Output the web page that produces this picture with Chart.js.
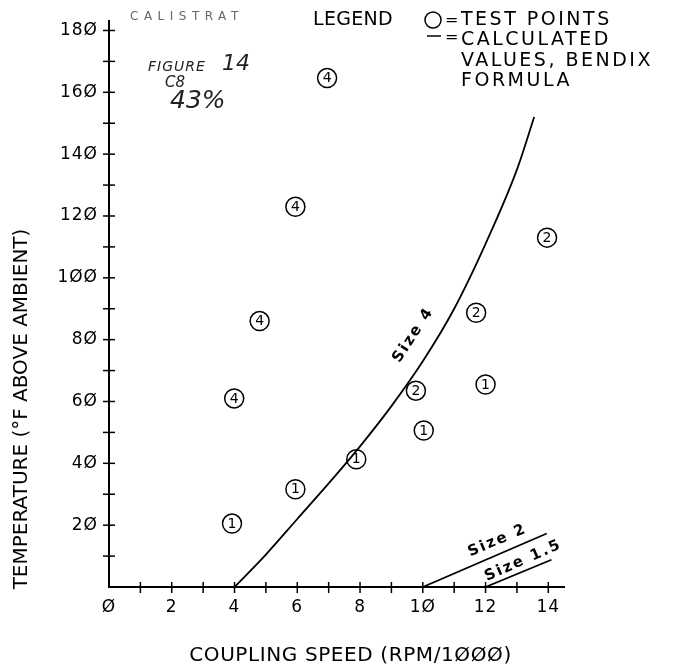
<!DOCTYPE html>
<html>
<head>
<meta charset="utf-8">
<script src="https://cdn.jsdelivr.net/npm/chart.js@4"></script>
<style>
  html, body { margin: 0; padding: 0; background: #fff; }
</style>
</head>
<body>
<canvas id="chart" width="675" height="666"></canvas>
<script>
// Calculated curves (Bendix formula)
const size4Speed = [4, 5, 6, 7, 8, 9, 10, 11, 12, 13, 13.55];
const size4Temp  = [0, 10.5, 22, 33.5, 45.5, 58.5, 73, 90, 111, 135, 152];
const size2Speed = [10, 13.95];
const size2Temp  = [0, 17.3];
const size15Speed = [12, 14.1];
const size15Temp  = [0, 8.8];

// Test points (circled number = coupling size)
const testSpeed = [6.95, 5.94, 4.8, 3.99, 3.92, 5.94, 7.88, 9.78, 10.03, 12.0, 11.7, 13.96];
const testTemp  = [164.6, 123, 86, 61, 20.5, 31.6, 41.3, 63.5, 50.6, 65.5, 88.7, 113];
const testSize  = ['4', '4', '4', '4', '1', '1', '1', '2', '1', '1', '2', '2'];

const curveNames = ['Size 4', 'Size 2', 'Size 1.5'];
const legendLines = ['TEST POINTS', 'CALCULATED', 'VALUES, BENDIX', 'FORMULA'];
const xTitle = 'COUPLING SPEED (RPM/1000)';
const yTitle = 'TEMPERATURE (°F ABOVE AMBIENT)';

const slashZero = s => String(s).replace(/0/g, 'Ø');
const toPoints = (xs, ys) => xs.map((x, i) => ({ x, y: ys[i] }));

function drawText(ctx, text, x, y, o) {
  o = o || {};
  ctx.save();
  ctx.translate(x, y);
  if (o.rot) ctx.rotate(o.rot * Math.PI / 180);
  ctx.font = o.font || '20px "DejaVu Sans"';
  ctx.letterSpacing = (o.ls || 0) + 'px';
  ctx.textAlign = o.align || 'left';
  ctx.textBaseline = 'middle';
  ctx.fillStyle = o.color || '#000';
  ctx.fillText(text, 0, 0);
  ctx.restore();
}

const paperPlugin = {
  id: 'paper',
  beforeDraw(chart) {
    chart.ctx.letterSpacing = '1px';
  },
  afterDatasetsDraw(chart) {
    const ctx = chart.ctx;
    const xs = chart.scales.x, ys = chart.scales.y;

    // tick marks crossing the axes
    ctx.save();
    ctx.strokeStyle = '#000';
    ctx.lineWidth = 1.5;
    xs.ticks.forEach(t => {
      if (t.value === 0) return;
      const px = xs.getPixelForValue(t.value);
      ctx.beginPath();
      ctx.moveTo(px, ys.bottom - 5);
      ctx.lineTo(px, ys.bottom + 6);
      ctx.stroke();
    });
    ys.ticks.forEach(t => {
      if (t.value === 0) return;
      const py = ys.getPixelForValue(t.value);
      ctx.beginPath();
      ctx.moveTo(xs.left - 6, py);
      ctx.lineTo(xs.left + 6, py);
      ctx.stroke();
    });
    ctx.restore();

    // numbers inside the test point circles
    const meta = chart.getDatasetMeta(3);
    meta.data.forEach((pt, i) => {
      drawText(ctx, testSize[i], pt.x, pt.y + 0.5, { font: '14px "DejaVu Sans"', align: 'center' });
    });

    // curve labels
    const bold = 'bold 15px "DejaVu Sans"';
    drawText(ctx, curveNames[0], xs.getPixelForValue(9.7), ys.getPixelForValue(81.5), { font: bold, ls: 2, align: 'center', rot: -57 });
    drawText(ctx, curveNames[1], xs.getPixelForValue(12.38), ys.getPixelForValue(15), { font: bold, ls: 2, align: 'center', rot: -23 });
    drawText(ctx, curveNames[2], xs.getPixelForValue(13.2), ys.getPixelForValue(8.5), { font: bold, ls: 2, align: 'center', rot: -24 });
  },
  afterDraw(chart) {
    const ctx = chart.ctx;
    const area = chart.chartArea;

    // axis titles
    drawText(ctx, slashZero(xTitle), (area.left + area.right) / 2 + 14, 656, { font: '20px "DejaVu Sans"', ls: 0.6, align: 'center' });
    drawText(ctx, yTitle, 22, 409, { font: '20px "DejaVu Sans"', align: 'center', rot: -90 });

    // legend block
    drawText(ctx, 'LEGEND', 313, 20, { font: '19px "DejaVu Sans"', ls: 0.3 });
    ctx.save();
    ctx.strokeStyle = '#000';
    ctx.lineWidth = 1.5;
    ctx.beginPath();
    ctx.arc(433, 20, 8, 0, Math.PI * 2);
    ctx.stroke();
    ctx.beginPath();
    ctx.moveTo(427, 36);
    ctx.lineTo(441, 36);
    ctx.stroke();
    ctx.restore();
    drawText(ctx, '=', 445, 21, { font: '16px "DejaVu Sans"' });
    drawText(ctx, '=', 445, 38, { font: '16px "DejaVu Sans"' });
    legendLines.forEach((s, i) => {
      drawText(ctx, s, 461, 20 + i * 20.5, { font: '19px "DejaVu Sans"', ls: 2.5 });
    });

    // handwritten notes
    drawText(ctx, 'CALISTRAT', 130, 17, { font: '12px "DejaVu Sans"', ls: 5.5, color: '#666' });
    drawText(ctx, 'FIGURE', 148, 67, { font: 'italic 14px "DejaVu Sans"', ls: 1, color: '#222' });
    drawText(ctx, '14', 222, 64, { font: 'italic 22px "DejaVu Sans"', color: '#222' });
    drawText(ctx, 'C8', 165, 83, { font: 'italic 15px "DejaVu Sans"', color: '#222' });
    drawText(ctx, '43%', 170, 101, { font: 'italic 25px "DejaVu Sans"', color: '#222' });
  }
};

const curveStyle = {
  showLine: true,
  borderColor: '#000',
  borderWidth: 1.8,
  pointRadius: 0,
  fill: false
};

new Chart(document.getElementById('chart'), {
  type: 'scatter',
  data: {
    datasets: [
      Object.assign({ label: curveNames[0], data: toPoints(size4Speed, size4Temp), cubicInterpolationMode: 'monotone' }, curveStyle),
      Object.assign({ label: curveNames[1], data: toPoints(size2Speed, size2Temp) }, curveStyle),
      Object.assign({ label: curveNames[2], data: toPoints(size15Speed, size15Temp) }, curveStyle),
      {
        label: 'Test points',
        data: toPoints(testSpeed, testTemp),
        pointRadius: 9.5,
        pointBackgroundColor: '#fff',
        pointBorderColor: '#000',
        pointBorderWidth: 1.5,
        showLine: false
      }
    ]
  },
  options: {
    responsive: false,
    animation: false,
    events: [],
    layout: { padding: { top: 20, right: 111, left: 0, bottom: 0 } },
    plugins: { legend: { display: false }, tooltip: { enabled: false } },
    scales: {
      x: {
        type: 'linear',
        min: 0,
        max: 14.5,
        afterFit: s => { s.height = 79; },
        grid: { display: false, drawTicks: false },
        border: { display: true, color: '#000', width: 2 },
        ticks: {
          stepSize: 1,
          includeBounds: false,
          autoSkip: false,
          maxRotation: 0,
          padding: 10,
          color: '#000',
          font: { family: 'DejaVu Sans', size: 17 },
          callback: v => (v % 2 === 0 ? slashZero(v) : '')
        }
      },
      y: {
        type: 'linear',
        min: 0,
        max: 183,
        afterFit: s => { s.width = 109; },
        grid: { display: false, drawTicks: false },
        border: { display: true, color: '#000', width: 2 },
        ticks: {
          stepSize: 10,
          includeBounds: false,
          autoSkip: false,
          padding: 11,
          color: '#000',
          font: { family: 'DejaVu Sans', size: 17 },
          callback: v => (v > 0 && v % 20 === 0 ? slashZero(v) : '')
        }
      }
    }
  },
  plugins: [paperPlugin]
});
</script>
</body>
</html>
